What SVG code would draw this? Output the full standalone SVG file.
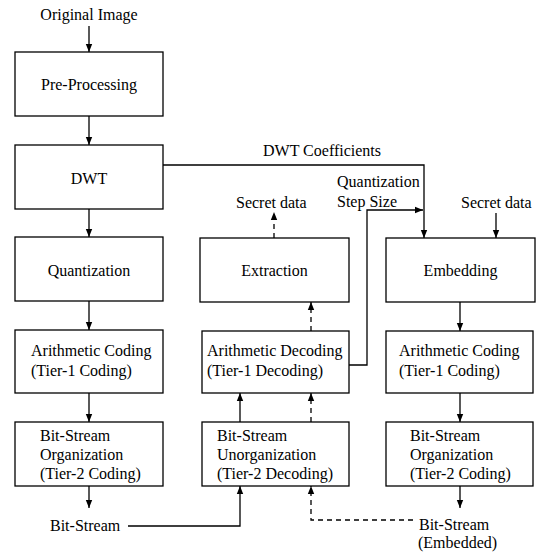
<svg xmlns="http://www.w3.org/2000/svg" width="539" height="552" viewBox="0 0 539 552">
<defs>
<marker id="a" markerUnits="userSpaceOnUse" markerWidth="8" markerHeight="11" refX="10" refY="4" orient="auto" viewBox="0 0 10 8">
<path d="M0,0 L10,4 L0,8 Z" fill="#000" stroke="none"/>
</marker>
</defs>
<rect width="539" height="552" fill="#fff"/>
<g font-family="'Liberation Serif', 'Times New Roman', serif" font-size="16" fill="#000">
<text text-anchor="middle" x="89" y="20">Original Image</text>
<g id="preprocessing"><rect x="15" y="52" width="148" height="64" fill="#fff" stroke="#000" stroke-width="1.3"/><text text-anchor="middle" x="89" y="90">Pre-Processing</text></g>
<g id="dwt"><rect x="15" y="145" width="148" height="64" fill="#fff" stroke="#000" stroke-width="1.3"/><text text-anchor="middle" x="89" y="184">DWT</text></g>
<g id="quantization"><rect x="15" y="237" width="148" height="64" fill="#fff" stroke="#000" stroke-width="1.3"/><text text-anchor="middle" x="89" y="276">Quantization</text></g>
<g id="arith-coding-left"><rect x="15" y="330" width="148" height="63" fill="#fff" stroke="#000" stroke-width="1.3"/><text x="31" y="356">Arithmetic Coding</text><text x="31" y="376">(Tier-1 Coding)</text></g>
<g id="bs-org-left"><rect x="15" y="422" width="148" height="64" fill="#fff" stroke="#000" stroke-width="1.3"/><text x="40" y="441">Bit-Stream</text><text x="40" y="460">Organization</text><text x="40" y="479">(Tier-2 Coding)</text></g>
<g id="extraction"><rect x="200" y="238" width="149" height="64" fill="#fff" stroke="#000" stroke-width="1.3"/><text text-anchor="middle" x="274.5" y="276">Extraction</text></g>
<g id="arith-decoding"><rect x="202" y="331" width="147" height="62" fill="#fff" stroke="#000" stroke-width="1.3"/><text x="207" y="356">Arithmetic Decoding</text><text x="207" y="376">(Tier-1 Decoding)</text></g>
<g id="bs-unorg"><rect x="202" y="422" width="147" height="64" fill="#fff" stroke="#000" stroke-width="1.3"/><text x="217" y="441">Bit-Stream</text><text x="217" y="460">Unorganization</text><text x="217" y="479">(Tier-2 Decoding)</text></g>
<g id="embedding"><rect x="386" y="238" width="149" height="64" fill="#fff" stroke="#000" stroke-width="1.3"/><text text-anchor="middle" x="460.5" y="276">Embedding</text></g>
<g id="arith-coding-right"><rect x="386" y="331" width="147" height="62" fill="#fff" stroke="#000" stroke-width="1.3"/><text x="399" y="356">Arithmetic Coding</text><text x="399" y="376">(Tier-1 Coding)</text></g>
<g id="bs-org-right"><rect x="386" y="422" width="147" height="64" fill="#fff" stroke="#000" stroke-width="1.3"/><text x="410" y="441">Bit-Stream</text><text x="410" y="460">Organization</text><text x="410" y="479">(Tier-2 Coding)</text></g>
<g id="labels">
<text text-anchor="middle" x="322" y="156">DWT Coefficients</text>
<text x="337" y="187">Quantization</text>
<text x="337" y="207">Step Size</text>
<text x="236" y="208">Secret data</text>
<text x="461" y="208">Secret data</text>
<text x="50" y="531">Bit-Stream</text>
<text x="419" y="530">Bit-Stream</text>
<text x="418" y="548">(Embedded)</text>
</g>
</g>
<g id="connectors" fill="none" stroke="#000" stroke-width="1.3">
<path d="M89,26 V52" marker-end="url(#a)"/>
<path d="M89,116 V145" marker-end="url(#a)"/>
<path d="M89,209 V237" marker-end="url(#a)"/>
<path d="M89,301 V330" marker-end="url(#a)"/>
<path d="M89,393 V422" marker-end="url(#a)"/>
<path d="M89,486 V508" marker-end="url(#a)"/>
<path d="M163,165 H424 V238" marker-end="url(#a)"/>
<path d="M349,365 H367 V210 H423" marker-end="url(#a)"/>
<path d="M496,213 V238" marker-end="url(#a)"/>
<path d="M240,422 V393" marker-end="url(#a)"/>
<path d="M460,302 V331" marker-end="url(#a)"/>
<path d="M460,393 V422" marker-end="url(#a)"/>
<path d="M460,486 V508" marker-end="url(#a)"/>
<path d="M128,526 H240 V486" marker-end="url(#a)"/>
<g stroke-dasharray="5,4">
<path d="M274,238 V212" marker-end="url(#a)"/>
<path d="M311,331 V302" marker-end="url(#a)"/>
<path d="M311,422 V393" marker-end="url(#a)"/>
<path d="M413,520 H311 V486" marker-end="url(#a)"/>
</g>
</g>
</svg>
